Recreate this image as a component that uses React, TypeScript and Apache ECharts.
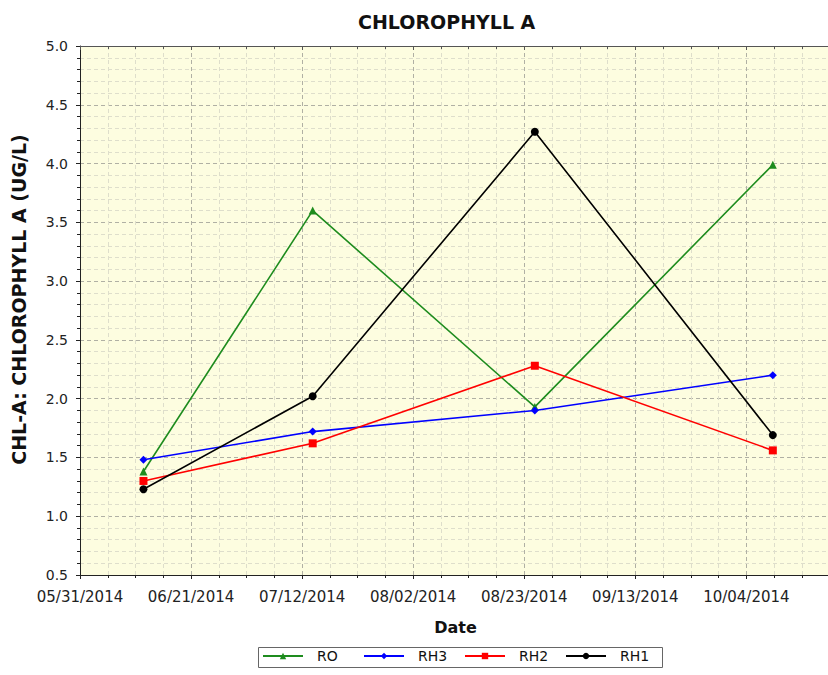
import React, { useEffect, useRef } from "react";
import * as echarts from "echarts";

const startDate = "05/31/2014";
const sampleDates = ["06/12/2014", "07/14/2014", "08/25/2014", "10/09/2014"];
const roValues = [1.38, 3.6, 1.93, 3.99];
const rh3Values = [1.48, 1.72, 1.9, 2.2];
const rh2Values = [1.3, 1.62, 2.28, 1.56];
const rh1Values = [1.23, 2.02, 4.27, 1.69];
const seriesNames = ["RO", "RH3", "RH2", "RH1"];
const yTicks = { min: 0.5, max: 5.0, step: 0.5 };
const xTickStepDays = 21;
const xMaxDays = 142;

const DAY = 86400000;
function parseDate(s: string): number {
  const [m, d, y] = s.split("/").map(Number);
  return Date.UTC(y, m - 1, d);
}
const base = parseDate(startDate);
function dayOffset(s: string): number {
  return Math.round((parseDate(s) - base) / DAY);
}
function fmtDay(v: number): string {
  const dt = new Date(base + Math.round(v) * DAY);
  const mm = String(dt.getUTCMonth() + 1).padStart(2, "0");
  const dd = String(dt.getUTCDate()).padStart(2, "0");
  return `${mm}/${dd}/${dt.getUTCFullYear()}`;
}

const CHART_W = 840;

export default function App() {
  const ref = useRef<HTMLDivElement>(null);
  useEffect(() => {
    if (!ref.current) return;
    const chart = echarts.init(ref.current, undefined, { renderer: "svg" });
    const font = "DejaVu Sans";
    const mk = (vals: number[]) => sampleDates.map((d, i) => [dayOffset(d), vals[i]]);
    const colors = ["#1e8c1e", "#0000ff", "#ff0000", "#000000"];
    const symbols = ["triangle", "diamond", "rect", "circle"];
    const sizes = [8, 8, 8, 8];
    const valueSets = [roValues, rh3Values, rh2Values, rh1Values];
    const legendLefts = [262, 363, 464, 565];
    chart.setOption({
      animation: false,
      backgroundColor: "#ffffff",
      title: {
        text: "CHLOROPHYLL A",
        left: 353,
        top: 7,
        textStyle: { fontFamily: font, fontWeight: "bold", fontSize: 19, color: "#111" },
      },
      legend: seriesNames.map((n, i) => ({
        data: [n],
        left: legendLefts[i],
        top: 649,
        padding: 0,
        itemWidth: 40,
        itemHeight: 8,
        itemGap: 0,
        textStyle: { fontFamily: font, fontSize: 14, color: "#111", padding: [0, 0, 0, 9] },
      })),
      graphic: [
        {
          type: "rect",
          shape: { x: 258.5, y: 647.5, width: 404, height: 20 },
          style: { fill: "none", stroke: "#666", lineWidth: 1 },
          silent: true,
        },
      ],
      grid: {
        left: 80,
        right: CHART_W - 831,
        top: 46,
        bottom: 100,
        show: true,
        backgroundColor: "#fdfde0",
        borderWidth: 0,
      },
      xAxis: [
        {
          type: "value",
          min: 0,
          max: xMaxDays,
          interval: xTickStepDays,
          name: "Date",
          nameLocation: "middle",
          nameGap: 44,
          nameTextStyle: { fontFamily: font, fontWeight: "bold", fontSize: 16, color: "#111" },
          axisLine: { show: true, onZero: false, lineStyle: { color: "#222", width: 1 } },
          axisTick: { show: true, length: 4, lineStyle: { color: "#222" } },
          minorTick: { show: true, splitNumber: 4, length: 3, lineStyle: { color: "#222" } },
          axisLabel: {
            fontFamily: font,
            fontSize: 15,
            color: "#222",
            margin: 14,
            showMaxLabel: false,
            formatter: (v: number) => fmtDay(v),
          },
          splitLine: { show: true, lineStyle: { color: "#b0b0a4", type: [4, 3], width: 1 } },
          minorSplitLine: { show: true, lineStyle: { color: "#dedecb", type: [4, 3], width: 1 } },
        },
        {
          type: "value",
          position: "top",
          min: 0,
          max: xMaxDays,
          interval: xTickStepDays,
          axisLine: { show: true, onZero: false, lineStyle: { color: "#555", width: 1 } },
          axisTick: { show: true, inside: true, length: 4, lineStyle: { color: "#555" } },
          minorTick: { show: true, splitNumber: 4, length: 3, lineStyle: { color: "#555" } },
          axisLabel: { show: false },
          splitLine: { show: false },
        },
      ],
      yAxis: {
        type: "value",
        min: yTicks.min,
        max: yTicks.max,
        interval: yTicks.step,
        name: "CHL-A: CHLOROPHYLL A (UG/L)",
        nameLocation: "middle",
        nameGap: 52,
        nameTextStyle: {
          fontFamily: font,
          fontWeight: "bold",
          fontSize: 19,
          color: "#111",
          padding: [0, 0, 0, 22],
        },
        axisLine: { show: true, lineStyle: { color: "#222", width: 1 } },
        axisTick: { show: true, length: 4, lineStyle: { color: "#222" } },
        minorTick: { show: true, splitNumber: 5, length: 3, lineStyle: { color: "#222" } },
        axisLabel: {
          fontFamily: font,
          fontSize: 14,
          color: "#222",
          margin: 12,
          formatter: (v: number) => v.toFixed(1),
        },
        splitLine: { show: true, lineStyle: { color: "#b0b0a4", type: [4, 3], width: 1 } },
        minorSplitLine: { show: true, lineStyle: { color: "#dedecb", type: [4, 3], width: 1 } },
      },
      series: seriesNames.map((name, i) => ({
        name,
        type: "line",
        xAxisIndex: 0,
        data: mk(valueSets[i]),
        symbol: symbols[i],
        symbolSize: sizes[i],
        showAllSymbol: true,
        color: colors[i],
        lineStyle: { color: colors[i], width: 1.6 },
        itemStyle: { color: colors[i] },
      })),
    });
    return () => chart.dispose();
  }, []);
  return (
    <div
      style={{
        position: "absolute",
        left: 0,
        top: 0,
        width: 828,
        height: 675,
        overflow: "hidden",
        background: "#fff",
      }}
    >
      <div ref={ref} style={{ width: CHART_W, height: 675 }} />
    </div>
  );
}
